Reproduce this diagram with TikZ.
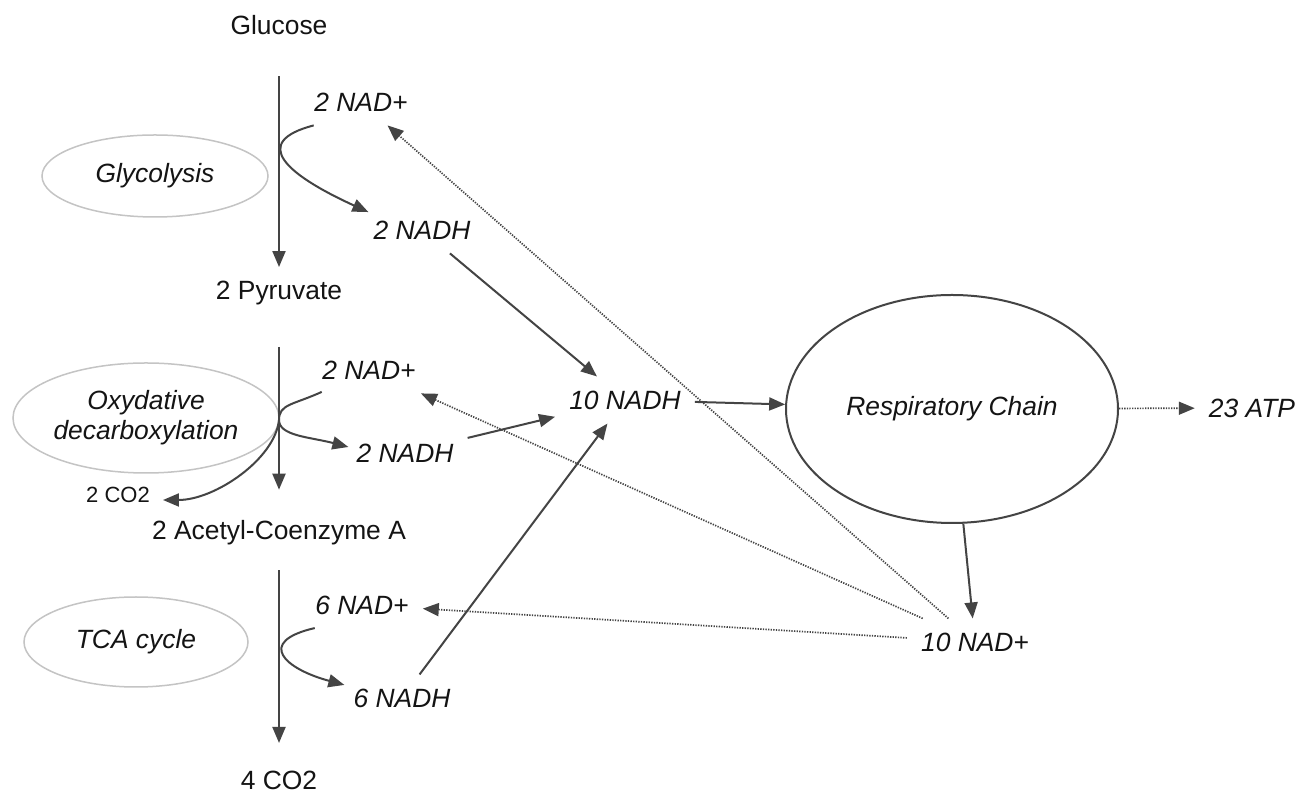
\documentclass[tikz,border=0pt]{standalone}
\usepackage{fontspec}
\setmainfont{Liberation Sans}
\usetikzlibrary{arrows.meta,shapes.geometric}
\definecolor{ink}{HTML}{444444}
\definecolor{ringgray}{HTML}{C4C4C4}
\definecolor{txt}{HTML}{141414}

\begin{document}
\begin{tikzpicture}[x=1pt,y=1pt,
font=\fontsize{26.4}{30}\selectfont,text=txt,
met/.style={inner sep=0pt},
cof/.style={inner sep=14pt,font=\fontsize{26.4}{30}\selectfont\itshape},
stage/.style={draw=ringgray,line width=1.5pt,ellipse,inner sep=0pt,align=center,
  font=\fontsize{26.4}{30}\selectfont\itshape},
arr/.style={-{Triangle[length=16pt,width=13pt]},line width=2pt,draw=ink},
recyc/.style={arr,line width=1.7pt,dash pattern=on 1.3pt off 1.3pt}]
\fill[white] (0,0) rectangle (1316,794);
\useasboundingbox (0,0) rectangle (1316,794);
% main pathway
\node[met] (glc) at (279,769) {Glucose};
\node[met] (pyr) at (279,501) {2 Pyruvate};
\node[met] (acc) at (279,261) {2 Acetyl-Coenzyme A};
\node[met] (fin) at (279,14) {4 CO2};
\node[stage,minimum width=226pt,minimum height=82pt] (gly) at (155,618) {Glycolysis};
\node[stage,minimum width=266pt,minimum height=110pt] (oxd) at (146,376) {Oxydative\\decarboxylation};
\node[stage,minimum width=224pt,minimum height=90pt] (tca) at (136,152) {TCA cycle};
% cofactors
\node[cof] (nadA) at (361,692) {2 NAD+};
\node[cof] (nadhA) at (422,564) {2 NADH};
\node[cof] (nadB) at (369,424) {2 NAD+};
\node[cof] (nadhB) at (405,341) {2 NADH};
\node[met,font=\fontsize{22}{26}\selectfont] (co2) at (118,299) {2 CO2};
\node[cof] (nadC) at (362,189) {6 NAD+};
\node[cof] (nadhC) at (402,96) {6 NADH};
\node[cof] (nadhT) at (625,394) {10 NADH};
\node[draw=ink,line width=2pt,ellipse,minimum width=332pt,minimum height=228pt,
  font=\fontsize{26.4}{30}\selectfont\itshape] (resp) at (952,385) {Respiratory Chain};
\node[cof] (nadT) at (975,152) {10 NAD+};
\node[cof] (atp) at (1252,386) {23 ATP};
\coordinate (fork) at (279,374);
% connectors
\draw[arr,shorten <=41.5pt,shorten >=13.8pt] (glc)--(pyr);
\draw[arr,shorten <=41.8pt,shorten >=30.8pt] (pyr)--(acc);
\draw[arr,shorten <=24.8pt,shorten >=27.5pt] (acc)--(fin);
\draw[arr] ([xshift=13.5pt]nadA.south west) .. controls (250,652) and (285,620) .. ([shift={(9,-5.5)}]nadhA.north west);
\draw[arr] ([shift={(13.5,1.5)}]nadB.south west) .. controls (293,389) and (279,390) .. (fork)
  .. controls (279,358) and (310,357) .. ([shift={(6,6)}]nadhB.west);
\draw[arr] (fork) .. controls (275,335) and (215,294) .. ([shift={(13,-5)}]co2.east);
\draw[arr] ([shift={(13.5,0.5)}]nadC.south west) .. controls (255,152) and (285,125) .. ([shift={(5,-10.5)}]nadhC.north west);
\draw[arr] (nadhA)--(nadhT);\draw[arr] (nadhB)--(nadhT);\draw[arr] (nadhC)--(nadhT);
\draw[arr] (nadhT)--(resp);\draw[arr] (resp)--(nadT);
\draw[recyc] (resp)--(atp);
\draw[recyc] (nadT)--(nadA);\draw[recyc] (nadT)--(nadB);\draw[recyc] (nadT)--(nadC);
\end{tikzpicture}
\end{document}
